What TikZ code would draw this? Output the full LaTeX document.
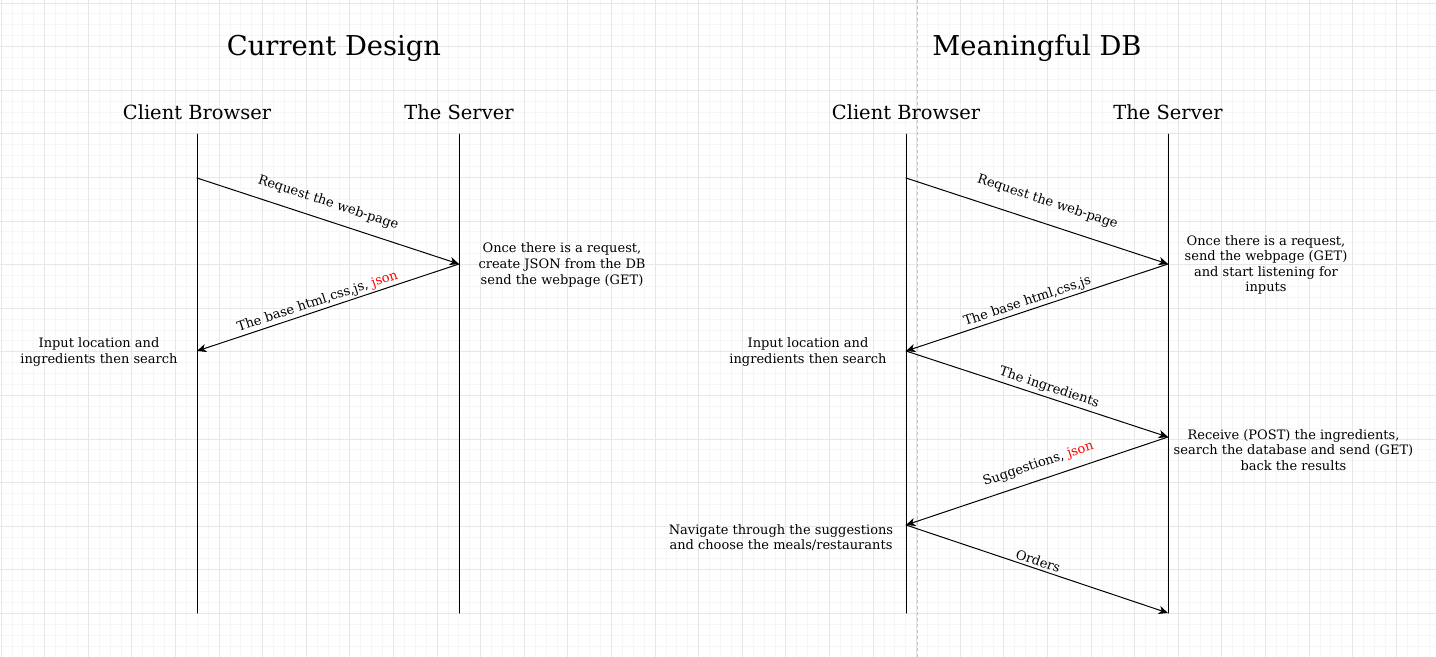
\documentclass[tikz,border=0pt]{standalone}
\usepackage{fontspec}
\setmainfont{DejaVu Serif}
\usetikzlibrary{arrows.meta,calc}
\usepackage{tkz-euclide}
\definecolor{GridMinorClr}{RGB}{246,246,246}
\definecolor{GridMajorClr}{RGB}{231,231,231}
\definecolor{SplitClr}{RGB}{195,195,195}
\definecolor{JsonClr}{RGB}{255,0,0}

\begin{document}
\begin{tikzpicture}[x=0.75pt,y=-0.75pt,
  life/.style={line width=0.75pt,color=black},
  msg/.style={line width=0.75pt,color=black,-{Stealth[length=7pt,width=6.2pt,inset=2pt]}},
  lbl/.style={font=\fontsize{9.75}{11.7}\selectfont,sloped,inner sep=0pt},
  note/.style={font=\fontsize{9.75}{11.7}\selectfont,align=center,inner sep=0pt},
  head/.style={font=\fontsize{14.6}{17}\selectfont,anchor=base,inner sep=0pt},
  title/.style={font=\fontsize{20.5}{24}\selectfont,anchor=base,inner sep=0pt}]
\useasboundingbox (0,0) rectangle (1436,657);

\begin{scope}
\clip (0,0) rectangle (1436,657);
\foreach \i in {0,...,131} \draw[GridMinorClr,line width=0.75pt] ({1.1+10.9*\i},0) -- ++(0,657);
\foreach \j in {0,...,60} \draw[GridMinorClr,line width=0.75pt] (0,{3+10.9*\j}) -- ++(1436,0);
\foreach \i in {0,...,32} \draw[GridMajorClr,line width=0.75pt] ({1.1+43.6*\i},0) -- ++(0,657);
\foreach \j in {0,...,15} \draw[GridMajorClr,line width=0.75pt] (0,{3+43.6*\j}) -- ++(1436,0);
\end{scope}

\tkzDefPoints{917/0/Ua,917/657/Ub}
\tkzDefPoints{197/134/Ca,197/613/Cb,459/134/Sa,459/613/Sb,197/178/A,459/264/B,197/351/C}
\tkzDefPoints{906/134/Da,906/613/Db,1168/134/Ta,1168/613/Tb,906/178/E,1168/264/F,906/351/G,1168/437/H,906/525/I,1168/613/J}

\tkzDrawSegment[SplitClr,line width=0.75pt,dash pattern=on 2.25pt off 2.25pt](Ua,Ub)

\node[title] (curT) at (334,55) {Current Design};
\node[title] (mdbT) at (1037,55) {Meaningful DB};
\node[head] (cliL) at (197,119) {Client Browser};
\node[head] (srvL) at (459,119) {The Server};
\node[head] (cliR) at (906,119) {Client Browser};
\node[head] (srvR) at (1168,119) {The Server};

\tkzDrawSegments[life](Ca,Cb Sa,Sb Da,Db Ta,Tb)
\tkzDrawSegments[msg](A,B B,C E,F F,G G,H H,I I,J)

\tkzLabelSegment[lbl,pos=.48,yshift=18pt](A,B){Request the web-page}
\tkzLabelSegment[lbl,pos=.529,yshift=11.5pt](B,C){The base html,css,js, \textcolor{JsonClr}{json}}
\tkzLabelSegment[lbl,pos=.515,yshift=21pt](E,F){Request the web-page}
\tkzLabelSegment[lbl,pos=.526,yshift=11.5pt](F,G){The base html,css,js}
\tkzLabelSegment[lbl,pos=.535,yshift=12.3pt](G,H){The ingredients}
\tkzLabelSegment[lbl,pos=.476,yshift=16.4pt](H,I){Suggestions, \textcolor{JsonClr}{json}}
\tkzLabelSegment[lbl,pos=.495,yshift=9.8pt](I,J){Orders}

\node[note] (onceL) at (562,265) {Once there is a request,\\create JSON from the DB\\send the webpage (GET)};
\node[note] (inputL) at (99,352) {Input location and\\ingredients then search};
\node[note] (onceR) at (1266,265) {Once there is a request,\\send the webpage (GET)\\and start listening for\\inputs};
\node[note] (inputR) at (808,352) {Input location and\\ingredients then search};
\node[note] (recvR) at (1293.5,450) {Receive (POST) the ingredients,\\search the database and send (GET)\\back the results};
\node[note] (navR) at (781,537.5) {Navigate through the suggestions\\and choose the meals/restaurants};

\end{tikzpicture}
\end{document}
